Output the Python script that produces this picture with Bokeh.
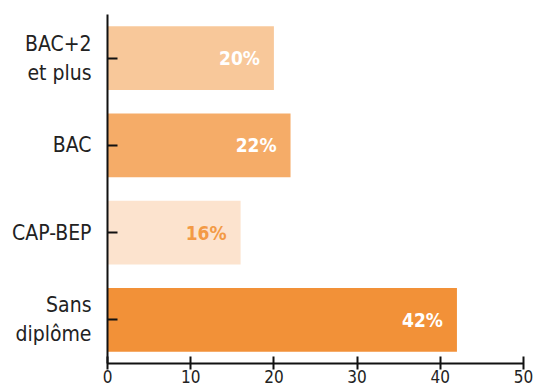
from bokeh.plotting import figure
from bokeh.models import ColumnDataSource, FactorRange, Range1d, FixedTicker
from bokeh.embed import file_html
from bokeh.resources import INLINE
from bokeh.core.properties import value

categories = ["Sans\ndiplôme", "CAP-BEP", "BAC", "BAC+2\net plus"]
values = [42, 16, 22, 20]
labels = ["42%", "16%", "22%", "20%"]
bar_colors = ["#F29138", "#FCE3CE", "#F5AC68", "#F8C89A"]
label_colors = ["#FFFFFF", "#F39A45", "#FFFFFF", "#FFFFFF"]
x_ticks = [0, 10, 20, 30, 40, 50]

FONT = "'DejaVu Sans Condensed', 'Roboto Condensed', Roboto, sans-serif"

src = ColumnDataSource(dict(cat=categories, val=values, lab=labels,
                            color=bar_colors, lcolor=label_colors))

p = figure(width=535, height=385, output_backend="svg", toolbar_location=None,
           y_range=FactorRange(factors=categories, range_padding=0),
           x_range=Range1d(0, 50),
           min_border_left=107, min_border_right=12, min_border_top=14, min_border_bottom=10)

p.hbar(y="cat", right="val", left=0, height=0.73, color="color", line_color=None, source=src)
p.text(x="val", y="cat", text="lab", source=src, x_offset=-14,
       text_align="right", text_baseline="middle", text_color="lcolor",
       text_font=value(FONT), text_font_style="bold", text_font_size="19px")

p.xgrid.visible = False
p.ygrid.visible = False
p.outline_line_color = None

p.xaxis.ticker = FixedTicker(ticks=x_ticks)
p.xaxis.axis_line_width = 2
p.xaxis.axis_line_color = "#111111"
p.xaxis.major_tick_line_width = 2
p.xaxis.major_tick_line_color = "#111111"
p.xaxis.major_tick_in = 7
p.xaxis.major_tick_out = 6
p.xaxis.minor_tick_line_color = None
p.xaxis.major_label_standoff = 0
p.xaxis.major_label_text_font = FONT
p.xaxis.major_label_text_font_size = "17px"
p.xaxis.major_label_text_color = "#222222"

p.yaxis.axis_line_width = 2
p.yaxis.axis_line_color = "#111111"
p.yaxis.major_tick_line_width = 2
p.yaxis.major_tick_line_color = "#111111"
p.yaxis.major_tick_in = 10
p.yaxis.major_tick_out = 0
p.yaxis.major_label_standoff = 16
p.yaxis.major_label_text_font = FONT
p.yaxis.major_label_text_font_size = "21px"
p.yaxis.major_label_text_color = "#222222"
p.yaxis.major_label_text_align = "right"

open("out.html", "w").write(file_html(p, INLINE))
